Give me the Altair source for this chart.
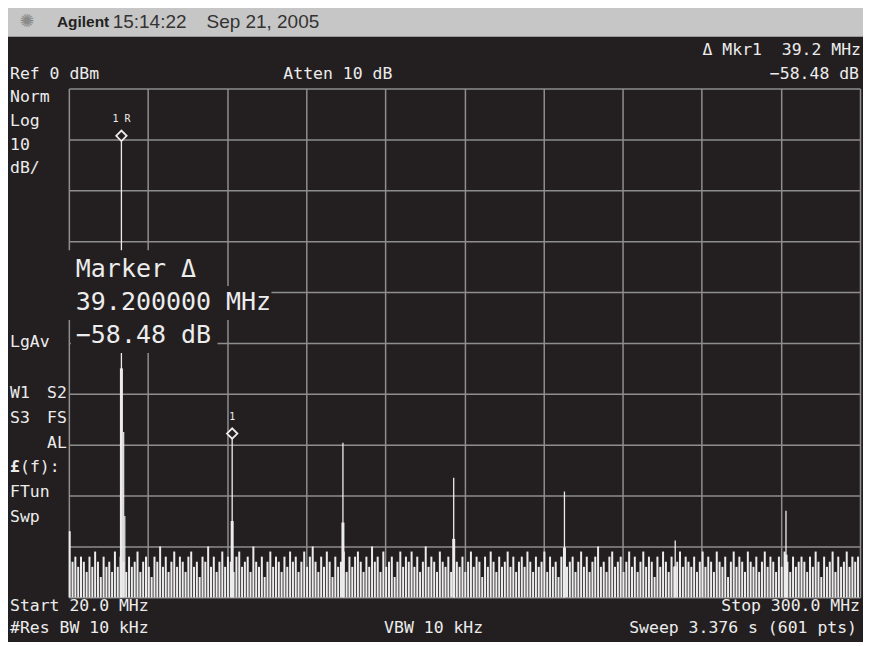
import altair as alt
import pandas as pd

# ---- sweep settings (screen: 10 div x 10 div) ----
x_ticks = [20, 48, 76, 104, 132, 160, 188, 216, 244, 272, 300]   # MHz
y_ticks = [0, -10, -20, -30, -40, -50, -60, -70, -80, -90, -100]  # dBm

# ---- noise floor trace (dBm), one value per MHz from 20 to 299 MHz ----
noise_db = [
    -87, -93, -92, -94, -92, -93, -95, -92, -94, -91, -93, -96, -92, -94, -93, -95, -91, -94, -92, -93,
    -95, -92, -94, -93, -91, -95, -93, -92, -94, -96, -92, -93, -90, -94, -92, -95, -93, -91, -94, -92,
    -93, -95, -92, -91, -94, -93, -96, -92, -93, -90, -94, -92, -95, -93, -91, -94, -92, -93, -95, -92,
    -91, -94, -93, -92, -95, -90, -93, -94, -92, -96, -93, -91, -94, -92, -93, -95, -92, -94, -91, -93,
    -92, -95, -93, -91, -94, -92, -90, -93, -95, -92, -94, -91, -93, -96, -92, -94, -93, -91, -95, -92,
    -94, -92, -91, -93, -95, -92, -94, -90, -93, -92, -95, -91, -94, -93, -92, -96, -93, -91, -94, -92,
    -93, -91, -94, -92, -95, -93, -90, -94, -92, -93, -95, -91, -93, -94, -92, -95, -91, -93, -94, -92,
    -95, -93, -91, -94, -92, -93, -96, -92, -94, -91, -93, -95, -92, -94, -93, -91, -94, -92, -95, -93,
    -92, -94, -91, -93, -95, -92, -94, -93, -91, -95, -92, -94, -93, -96, -92, -91, -94, -93, -92, -95,
    -93, -91, -94, -92, -95, -93, -92, -90, -94, -93, -95, -92, -91, -94, -93, -92, -95, -93, -91, -94,
    -92, -95, -93, -91, -94, -92, -93, -96, -92, -94, -91, -93, -95, -92, -94, -93, -91, -94, -92, -93,
    -94, -92, -95, -93, -91, -94, -92, -93, -95, -91, -93, -94, -92, -96, -93, -91, -94, -92, -93, -95,
    -91, -93, -94, -92, -95, -93, -91, -94, -92, -93, -95, -92, -94, -91, -93, -95, -92, -94, -93, -92,
    -93, -95, -92, -94, -91, -93, -96, -92, -94, -93, -91, -95, -92, -94, -93, -91, -94, -92, -93, -92,
]
noise_freq = [20.3 + i for i in range(len(noise_db))]

# ---- harmonic tones ----
peak_freq = [38.6, 77.8, 117.0, 156.2, 195.4, 234.6, 273.8]
peak_db = [-9.3, -67.8, -69.6, -76.5, -79.2, -88.8, -83.0]
shoulder_db = [-55.0, -85.0, -85.3, -88.5, -90.2, -93.9, -91.6]
side_freq = [39.4, 39.8]
side_db = [-67.5, -84.0]

# ---- markers ----
marker_freq = [38.6, 77.8]
marker_db = [-9.3, -67.8]
marker_label = ["1 R", "1"]

BG = "#231f20"
FG = "#ececec"
GRID = "#8e8e8e"
MONO = "DejaVu Sans Mono"

def xenc():
    return alt.X("f:Q", scale=alt.Scale(domain=[20, 300], nice=False, zero=False),
                 axis=alt.Axis(values=x_ticks, title=None))

def yenc():
    return alt.Y("db:Q", scale=alt.Scale(domain=[-100, 0], nice=False, zero=False),
                 axis=alt.Axis(values=y_ticks, title=None))

noise_df = pd.DataFrame({"f": noise_freq, "db": noise_db})
peak_df = pd.DataFrame({"f": peak_freq, "db": peak_db})
shoulder_df = pd.DataFrame({"f": peak_freq, "db": shoulder_db})
side_df = pd.DataFrame({"f": side_freq, "db": side_db})
marker_df = pd.DataFrame({"f": marker_freq, "db": marker_db, "lab": marker_label})

noise = alt.Chart(noise_df).mark_rule(color=FG, strokeWidth=2.0).encode(
    x=xenc(), y=yenc(), y2=alt.datum(-100))
shoulders = alt.Chart(shoulder_df).mark_rule(color=FG, strokeWidth=3).encode(
    x=xenc(), y=yenc(), y2=alt.datum(-100))
sides = alt.Chart(side_df).mark_rule(color=FG, strokeWidth=1.2).encode(
    x=xenc(), y=yenc(), y2=alt.datum(-100))
peaks = alt.Chart(peak_df).mark_rule(color=FG, strokeWidth=1.3).encode(
    x=xenc(), y=yenc(), y2=alt.datum(-100))
diamonds = alt.Chart(marker_df).mark_point(shape="diamond", filled=True, fill=BG, stroke=FG,
                                          strokeWidth=1.8, size=110, opacity=1).encode(
    x=xenc(), y=yenc())
mlabels = alt.Chart(marker_df).mark_text(color=FG, font=MONO, fontSize=10, dy=-17).encode(
    x=xenc(), y=yenc(), text="lab:N")


def box(x1, x2, y1, y2, color):
    return alt.Chart(alt.Data(values=[{}])).mark_rect(color=color).encode(
        x=alt.value(x1), x2=alt.value(x2), y=alt.value(y1), y2=alt.value(y2))


def label(txt, x, y, align="left", size=16.5, color=FG, font=MONO, weight="normal"):
    return alt.Chart(alt.Data(values=[{}])).mark_text(
        text=txt, align=align, baseline="middle", fontSize=size, color=color,
        font=font, fontWeight=weight).encode(x=alt.value(x), y=alt.value(y))


NB = "\u00a0"
layers = [
    noise, shoulders, sides, peaks, diamonds, mlabels,
    # title bar
    box(-61, 796, -81, -52, "#c6c6c6"),
    label("\u273a", -42, -67, align="center", size=18, color="#8a8a8a", font="DejaVu Sans"),
    label("Agilent", -12, -67, size=15.5, color="#222222", font="Liberation Sans", weight="bold"),
    label("15:14:22", 44, -67, size=19, color="#333333", font="Liberation Sans"),
    label("Sep 21, 2005", 138, -67, size=19, color="#333333", font="Liberation Sans"),
    # header texts
    label("Ref 0 dBm", -59, -15),
    label("Atten 10 dB", 215, -15),
    label("\u0394 Mkr1" + NB * 2 + "39.2 MHz", 794, -39, align="right"),
    label("\u221258.48 dB", 792, -15, align="right"),
    # left annotations
    label("Norm", -59, 8),
    label("Log", -59, 33),
    label("10", -59, 57),
    label("dB/", -59, 80),
    label("LgAv", -59, 254),
    label("W1", -59, 305),
    label("S2", -2, 305, align="right"),
    label("S3", -59, 330),
    label("FS", -2, 330, align="right"),
    label("AL", -2, 355, align="right"),
    label("\u00a3", -59, 379, weight="bold"),
    label("(f):", -49, 379),
    label("FTun", -59, 404),
    label("Swp", -59, 429),
    # marker readout with black backing
    box(-2, 131, 162, 198, BG),
    box(-2, 203, 198, 232, BG),
    box(2, 149, 232, 265, BG),
    label("Marker \u0394", 7, 181, size=25),
    label("39.200000 MHz", 7, 214, size=25),
    label("\u221258.48 dB", 7, 247, size=25),
    # footer
    label("Start 20.0 MHz", -59, 519),
    label("Stop 300.0 MHz", 793, 519, align="right"),
    label("#Res BW 10 kHz", -59, 541),
    label("VBW 10 kHz", 316, 541),
    label("Sweep 3.376 s (601 pts)", 790, 541, align="right"),
]

chart = alt.layer(*layers).properties(
    width=793, height=510,
    autosize=alt.AutoSizeParams(type="none"),
    padding={"left": 61, "top": 80, "right": 3, "bottom": 44},
    background=BG,
).configure_view(stroke=None).configure_axis(
    grid=True, gridColor=GRID, gridWidth=1.5, gridOpacity=1,
    labels=False, ticks=False, domain=False,
)

chart.save("out.html", embed_options={"renderer": "svg", "actions": False})
